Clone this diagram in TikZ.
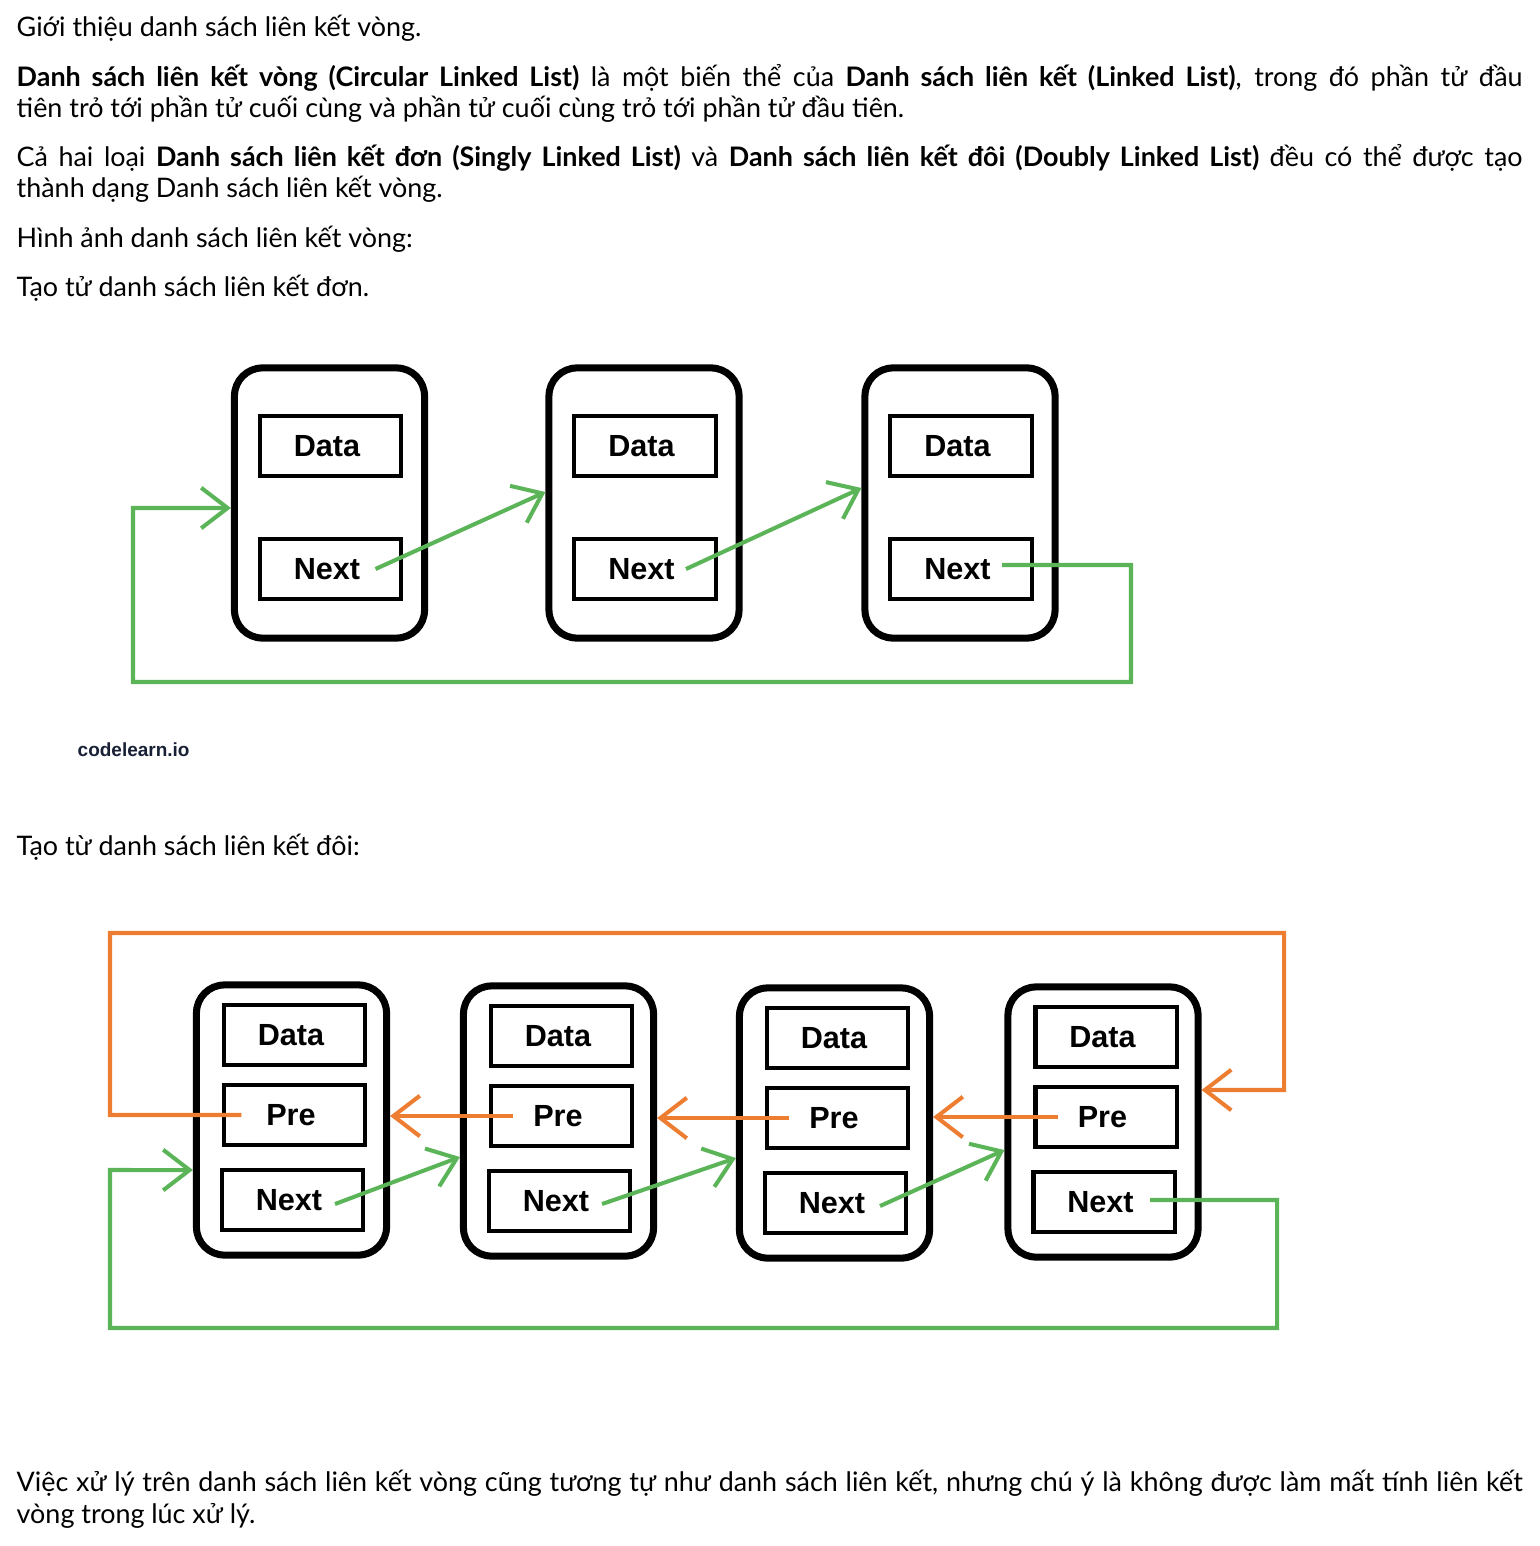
\documentclass[tikz,border=0pt]{standalone}
\usepackage{fontspec}
\setmainfont{Lato}
\newfontfamily\fieldfont{Liberation Sans}
\usetikzlibrary{arrows.meta}
\definecolor{linkgreen}{RGB}{92,180,88}
\definecolor{linkorange}{RGB}{237,125,49}
\definecolor{logoblue}{RGB}{24,32,54}
\tikzset{listnode/.style={draw, rounded corners=8pt, line width=2pt, minimum width=1.9cm, minimum height=2.7cm, inner sep=0pt},
  field/.style={draw, line width=1.15pt, minimum width=1.41cm, minimum height=0.6cm, inner sep=0pt, font=\fieldfont\bfseries\fontsize{8.7}{10}\selectfont},
  nextlink/.style={linkgreen, line width=1.15pt},
  prelink/.style={linkorange, line width=1.15pt},
  barb/.style={-{Straight Barb[length=7.5pt,width=11.5pt]}},
  textline/.style={anchor=base west, inner sep=0pt, font=\fontsize{7.65}{9}\selectfont}}
\newcommand\fullline[1]{\makebox[15.05cm][s]{#1}}

\begin{document}
\begin{tikzpicture}[x=0.01cm, y=-0.01cm]
  \useasboundingbox (0,0) rectangle (1540,1546);

  \node[textline] (t1) at (16,37) {Giới thiệu danh sách liên kết vòng.};
  \node[textline] (t2) at (16,87) {\fullline{\textbf{Danh sách liên kết vòng (Circular Linked List)} là một biến thể của \textbf{Danh sách liên kết (Linked List)}, trong đó phần tử đầu}};
  \node[textline] (t3) at (16,118) {tiên trỏ tới phần tử cuối cùng và phần tử cuối cùng trỏ tới phần tử đầu tiên.};
  \node[textline] (t4) at (16,167) {\fullline{Cả hai loại \textbf{Danh sách liên kết đơn (Singly Linked List)} và \textbf{Danh sách liên kết đôi (Doubly Linked List)} đều có thể được tạo}};
  \node[textline] (t5) at (16,198) {thành dạng Danh sách liên kết vòng.};
  \node[textline] (t6) at (16,248) {Hình ảnh danh sách liên kết vòng:};
  \node[textline] (t7) at (16,297) {Tạo tử danh sách liên kết đơn.};
  \node[textline] (t8) at (16,855) {Tạo từ danh sách liên kết đôi:};
  \node[textline] (t9) at (16,1491) {\fullline{Việc xử lý trên danh sách liên kết vòng cũng tương tự như danh sách liên kết, nhưng chú ý là không được làm mất tính liên kết}};
  \node[textline] (t10) at (16,1523) {vòng trong lúc xử lý.};

  \node[anchor=west, inner sep=0pt, text=logoblue, font=\fieldfont\bfseries\fontsize{5.4}{6}\selectfont] (logo) at (77,750) {codelearn.io};

  \node[listnode] (s1) at (329.5,503) {};
  \node[listnode] (s2) at (644,503) {};
  \node[listnode] (s3) at (960,503) {};
  \node[field] (sd1) at (330.5,446) {Data\kern2pt};
  \node[field] (sn1) at (330.5,569) {Next\kern2pt};
  \node[field] (sd2) at (645,446) {Data\kern2pt};
  \node[field] (sn2) at (645,569) {Next\kern2pt};
  \node[field] (sd3) at (961,446) {Data\kern2pt};
  \node[field] (sn3) at (961,569) {Next\kern2pt};

  \draw[nextlink, barb] ([xshift=0.45cm]sn1.center) -- ([yshift=0.11cm]s2.west);
  \draw[nextlink, barb] ([xshift=0.41cm]sn2.center) -- ([yshift=0.15cm]s3.west);
  \draw[nextlink, barb] ([xshift=0.41cm,yshift=0.04cm]sn3.center) -- (1131,565) -- (1131,682)
    -- (133,682) -- (133,508) -- ([yshift=-0.05cm]s1.west);

  \node[listnode] (b1) at (291.5,1120) {};
  \node[listnode] (b2) at (558.5,1121) {};
  \node[listnode] (b3) at (834.5,1123) {};
  \node[listnode] (b4) at (1103,1122) {};
  \node[field] (bd1) at (294.5,1035) {Data\kern2pt};
  \node[field] (bp1) at (294.5,1115) {Pre\kern2pt};
  \node[field] (bn1) at (292.5,1200) {Next\kern2pt};
  \node[field] (bd2) at (561.5,1036) {Data\kern2pt};
  \node[field] (bp2) at (561.5,1116) {Pre\kern2pt};
  \node[field] (bn2) at (559.5,1201) {Next\kern2pt};
  \node[field] (bd3) at (837.5,1038) {Data\kern2pt};
  \node[field] (bp3) at (837.5,1118) {Pre\kern2pt};
  \node[field] (bn3) at (835.5,1203) {Next\kern2pt};
  \node[field] (bd4) at (1106,1037) {Data\kern2pt};
  \node[field] (bp4) at (1106,1117) {Pre\kern2pt};
  \node[field] (bn4) at (1104,1202) {Next\kern2pt};

  \draw[prelink, barb] ([xshift=-0.48cm]bp2.center) -- (bp2.center -| b1.east);
  \draw[prelink, barb] ([xshift=-0.48cm]bp3.center) -- (bp3.center -| b2.east);
  \draw[prelink, barb] ([xshift=-0.48cm]bp4.center) -- (bp4.center -| b3.east);
  \draw[prelink, barb] ([xshift=-0.53cm]bp1.center) -- (110,1115) -- (110,933)
    -- (1284,933) -- (1284,1090) -- ([yshift=0.32cm]b4.east);

  \draw[nextlink, barb] ([xshift=0.425cm,yshift=-0.04cm]bn1.center) -- ([yshift=-0.36cm]b2.west);
  \draw[nextlink, barb] ([xshift=0.425cm,yshift=-0.03cm]bn2.center) -- ([yshift=-0.35cm]b3.west);
  \draw[nextlink, barb] ([xshift=0.445cm,yshift=-0.03cm]bn3.center) -- ([yshift=-0.28cm]b4.west);
  \draw[nextlink, barb] ([xshift=0.46cm,yshift=0.02cm]bn4.center) -- (1277,1200) -- (1277,1328)
    -- (110,1328) -- (110,1170) -- ([yshift=-0.5cm]b1.west);
\end{tikzpicture}
\end{document}
